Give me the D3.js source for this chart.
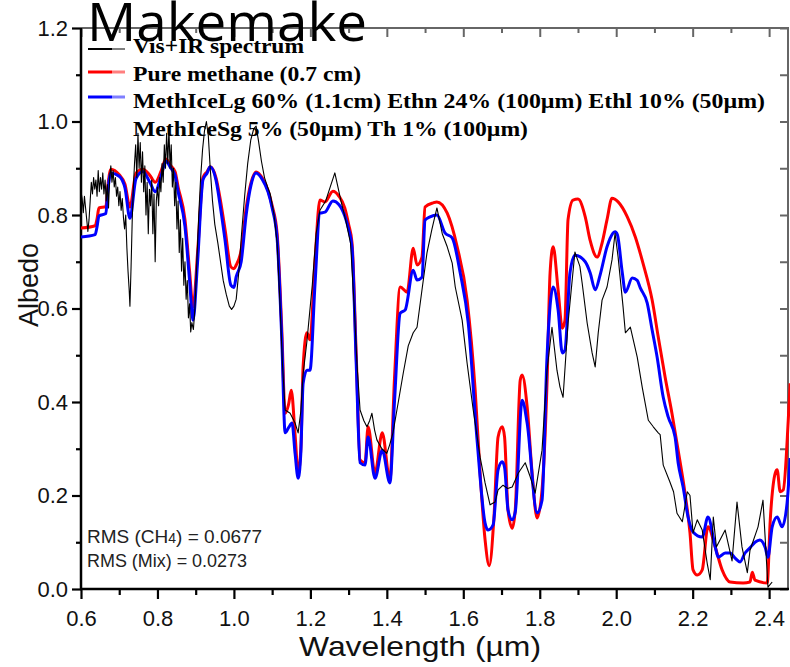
<!DOCTYPE html>
<html>
<head>
<meta charset="utf-8">
<script src="https://cdn.jsdelivr.net/npm/d3@7"></script>
<style>
  html, body { margin: 0; padding: 0; background: #fff; }
  svg { display: block; }
</style>
</head>
<body>
<svg id="chart" width="790" height="667"></svg>
<script>
// Observed Vis+IR reflectance spectrum of Makemake
const specWl = [0.600,0.603,0.606,0.609,0.612,0.615,0.618,0.621,0.624,0.627,0.630,0.633,0.636,0.639,0.642,0.645,0.648,0.651,0.654,0.657,0.660,0.663,0.666,0.669,0.672,0.675,0.678,0.681,0.684,0.687,0.690,0.693,0.696,0.699,0.702,0.705,0.708,0.711,0.714,0.717,0.720,0.723,0.726,0.728,0.731,0.734,0.737,0.740,0.743,0.746,0.749,0.752,0.755,0.758,0.761,0.764,0.767,0.770,0.773,0.776,0.779,0.782,0.785,0.788,0.791,0.794,0.797,0.800,0.803,0.806,0.809,0.812,0.815,0.818,0.821,0.824,0.827,0.830,0.833,0.836,0.839,0.842,0.845,0.848,0.851,0.854,0.857,0.860,0.863,0.866,0.869,0.872,0.875,0.878,0.881,0.884,0.887,0.890,0.894,0.898,0.903,0.908,0.913,0.918,0.923,0.928,0.933,0.938,0.944,0.950,0.958,0.965,0.972,0.980,0.988,0.994,1.000,1.006,1.013,1.020,1.028,1.036,1.044,1.052,1.058,1.064,1.072,1.080,1.088,1.095,1.105,1.113,1.120,1.127,1.134,1.147,1.160,1.168,1.175,1.181,1.191,1.205,1.215,1.225,1.240,1.252,1.264,1.272,1.280,1.292,1.305,1.315,1.322,1.330,1.340,1.348,1.355,1.361,1.368,1.374,1.387,1.400,1.408,1.416,1.430,1.443,1.456,1.469,1.479,1.492,1.505,1.518,1.531,1.545,1.558,1.571,1.579,1.597,1.610,1.626,1.644,1.657,1.670,1.683,1.691,1.704,1.716,1.728,1.744,1.762,1.775,1.788,1.806,1.819,1.832,1.845,1.853,1.861,1.874,1.892,1.905,1.911,1.924,1.937,1.945,1.953,1.963,1.976,1.989,1.997,2.005,2.018,2.024,2.037,2.055,2.068,2.084,2.097,2.110,2.115,2.123,2.140,2.150,2.159,2.173,2.186,2.193,2.201,2.212,2.225,2.238,2.246,2.254,2.262,2.285,2.303,2.316,2.329,2.343,2.350,2.371,2.384,2.397,2.408];
const specAlb = [0.850,0.835,0.805,0.840,0.815,0.790,0.765,0.790,0.830,0.870,0.845,0.880,0.855,0.875,0.840,0.895,0.850,0.880,0.855,0.890,0.845,0.875,0.830,0.865,0.815,0.880,0.905,0.870,0.895,0.860,0.880,0.840,0.860,0.820,0.850,0.810,0.835,0.795,0.770,0.800,0.730,0.680,0.640,0.605,0.690,0.790,0.860,0.910,0.950,0.880,0.975,0.900,0.955,0.870,0.935,0.850,0.905,0.800,0.870,0.760,0.855,0.820,0.875,0.760,0.845,0.700,0.830,0.860,0.820,0.880,0.850,0.910,0.870,0.950,0.900,0.975,0.910,0.985,0.900,0.950,0.860,0.900,0.820,0.870,0.770,0.830,0.720,0.790,0.680,0.750,0.650,0.700,0.620,0.660,0.580,0.610,0.550,0.570,0.555,0.600,0.700,0.800,0.880,0.940,0.980,1.000,0.970,0.900,0.830,0.780,0.740,0.700,0.660,0.630,0.605,0.598,0.605,0.620,0.680,0.760,0.840,0.910,0.960,0.985,0.990,0.960,0.915,0.880,0.860,0.845,0.800,0.740,0.620,0.480,0.383,0.376,0.355,0.334,0.380,0.460,0.530,0.650,0.760,0.810,0.830,0.860,0.890,0.860,0.830,0.790,0.740,0.600,0.480,0.383,0.360,0.347,0.360,0.376,0.340,0.319,0.300,0.290,0.310,0.334,0.400,0.462,0.520,0.548,0.560,0.640,0.719,0.770,0.815,0.760,0.732,0.697,0.646,0.575,0.483,0.383,0.282,0.227,0.180,0.186,0.212,0.222,0.215,0.218,0.248,0.270,0.240,0.205,0.297,0.468,0.560,0.468,0.432,0.410,0.569,0.721,0.690,0.654,0.569,0.505,0.475,0.548,0.618,0.646,0.704,0.761,0.710,0.603,0.548,0.560,0.496,0.432,0.361,0.347,0.334,0.330,0.265,0.230,0.208,0.162,0.144,0.208,0.200,0.120,0.148,0.126,0.055,0.020,0.154,0.090,0.126,0.060,0.186,0.090,0.035,0.083,0.133,0.190,0.004,0.015];

// Model: pure methane ice (0.7 cm)
const ch4Wl = [0.600,0.637,0.642,0.647,0.665,0.670,0.678,0.700,0.715,0.728,0.744,0.762,0.780,0.794,0.810,0.822,0.835,0.846,0.854,0.872,0.884,0.893,0.905,0.919,0.930,0.938,0.953,0.965,0.977,0.992,1.000,1.006,1.019,1.032,1.045,1.058,1.075,1.089,1.100,1.113,1.125,1.134,1.143,1.150,1.160,1.168,1.175,1.181,1.191,1.199,1.212,1.225,1.238,1.259,1.275,1.290,1.300,1.309,1.320,1.330,1.343,1.351,1.369,1.388,1.408,1.420,1.435,1.453,1.469,1.479,1.492,1.500,1.521,1.531,1.558,1.584,1.610,1.631,1.644,1.657,1.668,1.680,1.691,1.702,1.708,1.717,1.728,1.736,1.749,1.754,1.767,1.780,1.793,1.806,1.819,1.827,1.835,1.848,1.859,1.866,1.874,1.887,1.900,1.919,1.932,1.950,1.963,1.976,1.989,2.005,2.029,2.050,2.070,2.094,2.110,2.128,2.146,2.162,2.180,2.193,2.201,2.212,2.225,2.240,2.259,2.277,2.298,2.332,2.350,2.356,2.363,2.395,2.403,2.416,2.421,2.429,2.437,2.450,2.455];
const ch4Alb = [0.772,0.777,0.792,0.815,0.818,0.860,0.898,0.886,0.866,0.817,0.890,0.898,0.885,0.870,0.895,0.920,0.905,0.893,0.860,0.790,0.680,0.603,0.720,0.880,0.893,0.903,0.880,0.830,0.768,0.689,0.685,0.693,0.725,0.815,0.870,0.892,0.878,0.853,0.820,0.760,0.560,0.376,0.395,0.425,0.330,0.248,0.300,0.475,0.548,0.533,0.700,0.832,0.828,0.851,0.840,0.815,0.780,0.740,0.500,0.276,0.270,0.347,0.248,0.334,0.233,0.450,0.646,0.635,0.729,0.693,0.710,0.817,0.826,0.828,0.804,0.732,0.618,0.426,0.248,0.105,0.050,0.150,0.325,0.347,0.325,0.169,0.130,0.170,0.447,0.458,0.390,0.248,0.152,0.212,0.440,0.676,0.732,0.640,0.558,0.575,0.790,0.832,0.834,0.796,0.745,0.710,0.740,0.790,0.836,0.828,0.796,0.753,0.697,0.618,0.539,0.453,0.375,0.297,0.205,0.120,0.041,0.030,0.041,0.133,0.090,0.041,0.015,0.013,0.015,0.036,0.019,0.013,0.148,0.248,0.255,0.208,0.212,0.360,0.440];

// Model: intimate mixture (CH4 ice large/small grains, ethane, ethylene, tholin)
const mixWl = [0.600,0.637,0.642,0.647,0.665,0.670,0.678,0.700,0.715,0.728,0.744,0.762,0.780,0.794,0.810,0.822,0.835,0.846,0.854,0.872,0.884,0.893,0.905,0.919,0.930,0.938,0.953,0.965,0.977,0.992,1.000,1.006,1.019,1.032,1.045,1.058,1.075,1.089,1.100,1.113,1.125,1.134,1.143,1.152,1.160,1.168,1.175,1.181,1.191,1.199,1.212,1.225,1.238,1.259,1.275,1.290,1.300,1.309,1.320,1.330,1.343,1.351,1.369,1.388,1.408,1.420,1.435,1.448,1.469,1.479,1.492,1.500,1.513,1.531,1.552,1.571,1.592,1.613,1.636,1.657,1.665,1.678,1.691,1.702,1.708,1.717,1.728,1.736,1.754,1.767,1.793,1.806,1.819,1.835,1.848,1.859,1.866,1.879,1.892,1.919,1.932,1.945,1.958,1.976,1.984,1.997,2.003,2.016,2.024,2.042,2.055,2.063,2.081,2.094,2.107,2.123,2.136,2.154,2.162,2.175,2.188,2.201,2.225,2.240,2.259,2.267,2.285,2.298,2.311,2.324,2.337,2.350,2.363,2.376,2.390,2.397,2.408,2.421,2.434,2.447,2.455];
const mixAlb = [0.753,0.758,0.775,0.798,0.803,0.850,0.890,0.883,0.858,0.793,0.878,0.893,0.870,0.850,0.885,0.915,0.900,0.885,0.850,0.775,0.660,0.575,0.700,0.875,0.890,0.903,0.875,0.815,0.745,0.650,0.645,0.668,0.700,0.800,0.865,0.890,0.875,0.850,0.815,0.750,0.540,0.334,0.345,0.355,0.290,0.237,0.290,0.440,0.468,0.468,0.650,0.804,0.806,0.830,0.822,0.798,0.770,0.730,0.480,0.270,0.265,0.325,0.237,0.297,0.227,0.400,0.590,0.597,0.682,0.661,0.667,0.789,0.796,0.800,0.762,0.751,0.676,0.569,0.319,0.141,0.126,0.137,0.255,0.272,0.260,0.169,0.148,0.165,0.404,0.355,0.163,0.190,0.496,0.646,0.597,0.505,0.511,0.676,0.714,0.700,0.676,0.640,0.672,0.732,0.750,0.764,0.758,0.676,0.635,0.665,0.660,0.644,0.612,0.554,0.496,0.410,0.368,0.325,0.270,0.218,0.154,0.122,0.111,0.154,0.090,0.068,0.077,0.077,0.066,0.058,0.077,0.088,0.100,0.105,0.088,0.068,0.133,0.154,0.133,0.184,0.280];

const xMajorTicks = [0.6, 0.8, 1.0, 1.2, 1.4, 1.6, 1.8, 2.0, 2.2, 2.4];
const xMinorTicks = [0.7, 0.9, 1.1, 1.3, 1.5, 1.7, 1.9, 2.1, 2.3];
const yMajorTicks = [0.0, 0.2, 0.4, 0.6, 0.8, 1.0, 1.2];
const yMinorTicks = [0.1, 0.3, 0.5, 0.7, 0.9, 1.1];

const legendLabels = [
  "Vis+IR spectrum",
  "Pure methane (0.7 cm)",
  "MethIceLg 60% (1.1cm) Ethn 24% (100µm) Ethl 10% (50µm)",
  "MethIceSg 5% (50µm) Th 1% (100µm)"
];
const legendColors = ["#000000", "#ff0000", "#0000ff"];
const rmsLabels = [["RMS (CH", "4", ") = 0.0677"], ["RMS (Mix) = 0.0273"]];

const svg = d3.select("#chart");
const L = 81, R = 789, T = 28, B = 589;

const x = d3.scaleLinear().domain([0.6, 2.452]).range([L, R]);
const y = d3.scaleLinear().domain([0, 1.2]).range([B, T]);

svg.append("defs").append("clipPath").attr("id", "plot")
  .append("rect").attr("x", L).attr("y", T - 2).attr("width", R - L + 2).attr("height", B - T + 2);

// Frame: top and right in grey, left and bottom in black
svg.append("line").attr("x1", L).attr("x2", R).attr("y1", T).attr("y2", T)
  .attr("stroke", "#666").attr("stroke-width", 2);
svg.append("line").attr("x1", R - 1).attr("x2", R - 1).attr("y1", T).attr("y2", B)
  .attr("stroke", "#666").attr("stroke-width", 2);

// top ticks (inward)
svg.append("g").attr("transform", `translate(0,${T})`)
  .call(d3.axisBottom(x).tickValues(xMajorTicks).tickSize(9).tickFormat(""))
  .call(g => g.select(".domain").remove())
  .call(g => g.selectAll("line").attr("stroke", "#666").attr("stroke-width", 2));
svg.append("g").attr("transform", `translate(0,${T})`)
  .call(d3.axisBottom(x).tickValues(xMinorTicks).tickSize(5).tickFormat(""))
  .call(g => g.select(".domain").remove())
  .call(g => g.selectAll("line").attr("stroke", "#666").attr("stroke-width", 2));
// right ticks (inward)
svg.append("g").attr("transform", `translate(${R - 1},0)`)
  .call(d3.axisLeft(y).tickValues(yMajorTicks.concat(yMinorTicks)).tickSize(8).tickFormat(""))
  .call(g => g.select(".domain").remove())
  .call(g => g.selectAll("line").attr("stroke", "#666").attr("stroke-width", 2));

// bottom axis
const xAxis = svg.append("g").attr("transform", `translate(0,${B})`)
  .call(d3.axisBottom(x).tickValues(xMajorTicks).tickSize(10).tickPadding(11)
    .tickSizeOuter(0).tickFormat(d3.format(".1f")));
xAxis.select(".domain").remove();
xAxis.selectAll("line").attr("stroke", "#000").attr("stroke-width", 2.2);
xAxis.selectAll("text").attr("font-family", "Liberation Sans, Arial, sans-serif")
  .attr("font-size", 22).attr("fill", "#111");
svg.append("g").attr("transform", `translate(0,${B})`)
  .call(d3.axisBottom(x).tickValues(xMinorTicks).tickSize(6).tickFormat(""))
  .call(g => g.select(".domain").remove())
  .call(g => g.selectAll("line").attr("stroke", "#000").attr("stroke-width", 2.2));

// left axis
const yAxis = svg.append("g").attr("transform", `translate(${L},0)`)
  .call(d3.axisLeft(y).tickValues(yMajorTicks).tickSize(9).tickPadding(4)
    .tickSizeOuter(0).tickFormat(d3.format(".1f")));
yAxis.select(".domain").remove();
yAxis.selectAll("line").attr("stroke", "#000").attr("stroke-width", 2.2);
yAxis.selectAll("text").attr("font-family", "Liberation Sans, Arial, sans-serif")
  .attr("font-size", 22).attr("fill", "#111");
svg.append("g").attr("transform", `translate(${L},0)`)
  .call(d3.axisLeft(y).tickValues(yMinorTicks).tickSize(5).tickFormat(""))
  .call(g => g.select(".domain").remove())
  .call(g => g.selectAll("line").attr("stroke", "#000").attr("stroke-width", 2.2));

svg.append("line").attr("x1", L).attr("x2", L).attr("y1", T).attr("y2", B + 1)
  .attr("stroke", "#000").attr("stroke-width", 2.5);
svg.append("line").attr("x1", L - 1).attr("x2", R).attr("y1", B).attr("y2", B)
  .attr("stroke", "#000").attr("stroke-width", 2.5);

// spectra
const lineSmooth = d3.line().x(d => x(d[0])).y(d => y(d[1])).curve(d3.curveMonotoneX);
const lineRaw = d3.line().x(d => x(d[0])).y(d => y(d[1]));
const plot = svg.append("g").attr("clip-path", "url(#plot)");

plot.append("path").datum(d3.zip(ch4Wl, ch4Alb)).attr("d", lineSmooth)
  .attr("fill", "none").attr("stroke", legendColors[1]).attr("stroke-width", 3)
  .attr("stroke-linejoin", "round");
plot.append("path").datum(d3.zip(mixWl, mixAlb)).attr("d", lineSmooth)
  .attr("fill", "none").attr("stroke", legendColors[2]).attr("stroke-width", 3)
  .attr("stroke-linejoin", "round");
plot.append("path").datum(d3.zip(specWl, specAlb)).attr("d", lineRaw)
  .attr("fill", "none").attr("stroke", legendColors[0]).attr("stroke-width", 1.1)
  .attr("stroke-linejoin", "round");

// legend
const legendRows = [53, 81, 108, 136];
const legendLineY = [49, 72, 97];
const legendEnds = [304, 361, 765, 528];
legendColors.forEach((c, i) => {
  const yy = legendLineY[i];
  svg.append("line").attr("x1", 88).attr("x2", 112).attr("y1", yy).attr("y2", yy)
    .attr("stroke", c).attr("stroke-width", i === 0 ? 2 : 3);
  svg.append("line").attr("x1", 112).attr("x2", 125).attr("y1", yy).attr("y2", yy)
    .attr("stroke", c).attr("stroke-width", i === 0 ? 2 : 3).attr("stroke-opacity", 0.5);
});
legendLabels.forEach((t, i) => {
  svg.append("text").attr("x", 133).attr("y", legendRows[i])
    .attr("font-family", "Liberation Serif, Times New Roman, serif")
    .attr("font-weight", "bold").attr("font-size", 22).attr("fill", "#000")
    .attr("textLength", legendEnds[i] - 133).attr("lengthAdjust", "spacingAndGlyphs")
    .text(t);
});

// title
svg.append("text").attr("x", 87).attr("y", 41)
  .attr("font-family", "Open Sans, sans-serif").attr("font-size", 53)
  .attr("fill", "#000").attr("textLength", 280).attr("lengthAdjust", "spacingAndGlyphs")
  .text("Makemake");

// fit statistics
const rms1 = svg.append("text").attr("x", 87).attr("y", 543)
  .attr("font-family", "Liberation Sans, Arial, sans-serif").attr("font-size", 19).attr("fill", "#222");
rms1.append("tspan").text(rmsLabels[0][0]);
rms1.append("tspan").attr("font-size", 14).text(rmsLabels[0][1]);
rms1.append("tspan").text(rmsLabels[0][2]);
svg.append("text").attr("x", 87).attr("y", 567)
  .attr("font-family", "Liberation Sans, Arial, sans-serif").attr("font-size", 19).attr("fill", "#222")
  .attr("textLength", 160).attr("lengthAdjust", "spacingAndGlyphs")
  .text(rmsLabels[1][0]);

// axis titles
svg.append("text").attr("x", 420).attr("y", 656).attr("text-anchor", "middle")
  .attr("font-family", "Liberation Sans, Arial, sans-serif").attr("font-size", 28).attr("fill", "#111")
  .attr("textLength", 242).attr("lengthAdjust", "spacingAndGlyphs")
  .text("Wavelength (µm)");
svg.append("text").attr("transform", "translate(38,285) rotate(-90)").attr("text-anchor", "middle")
  .attr("font-family", "Liberation Sans, Arial, sans-serif").attr("font-size", 27).attr("fill", "#111")
  .text("Albedo");
</script>
</body>
</html>
